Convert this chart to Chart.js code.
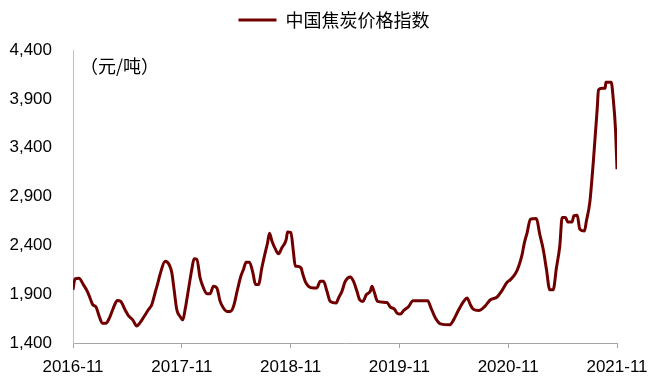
<!DOCTYPE html>
<html>
<head>
<meta charset="utf-8">
<script src="https://cdn.jsdelivr.net/npm/chart.js@4.4.1/dist/chart.umd.min.js"></script>
<style>
html,body{margin:0;padding:0;background:#fff;}
#wrap{width:668px;height:383px;position:relative;}
</style>
</head>
<body>
<div id="wrap"><canvas id="c" width="668" height="383"></canvas></div>
<script>
// Series: months since 2016-11 and index values (元/吨)
const seriesName = '中国焦炭价格指数';
const unitLabel = '（元/吨）';
const xTickLabels = ['2016-11','2017-11','2018-11','2019-11','2020-11','2021-11'];
const yTicks = [1400, 1900, 2400, 2900, 3400, 3900, 4400];
const months = [
  0, 0.22, 0.66, 1.14, 1.58, 1.95, 2.17, 2.54, 2.90, 3.23, 3.64, 4.01, 4.45, 4.89, 5.27, 5.74,
  6.11, 6.59, 7.03, 7.40, 7.84, 8.31, 8.69, 9.05, 9.31, 9.60, 10.16, 10.60, 10.90, 11.15, 11.45, 11.81,
  12.11, 12.36, 12.73, 13.10, 13.36, 13.66, 14.02, 14.39, 14.76, 15.12, 15.49, 15.86, 16.23, 16.59, 16.97, 17.33,
  17.70, 18.14, 18.51, 18.80, 19.10, 19.46, 19.84, 20.13, 20.46, 20.83, 21.20, 21.45, 21.67, 21.94, 22.30, 22.67,
  23.04, 23.52, 23.66, 24.03, 24.32, 24.51, 24.70, 25.14, 25.36, 25.61, 25.98, 26.53, 26.90, 27.27, 27.63, 28.01,
  28.37, 29.03, 29.29, 29.66, 30.03, 30.58, 30.94, 31.32, 31.61, 31.98, 32.35, 32.79, 32.98, 33.23, 33.59, 34.63,
  35.00, 35.44, 35.74, 36.10, 36.47, 37.02, 37.50, 39.11, 39.49, 39.97, 40.52, 41.54, 41.98, 42.54, 43.09, 43.46,
  43.83, 44.13, 44.75, 45.48, 46.04, 46.78, 47.33, 47.88, 48.25, 48.80, 49.16, 49.54, 49.79, 50.09, 50.45, 51.11,
  51.48, 51.86, 52.22, 52.58, 52.96, 53.32, 53.69, 53.95, 54.32, 54.57, 55.06, 55.23, 55.61, 55.90, 56.41, 56.63,
  57.00, 57.37, 57.63, 57.82, 57.96, 58.37, 58.70, 58.77, 59.36, 59.58, 59.84, 60.00
];
const values = [
  1946, 2057, 2063, 1998, 1929, 1843, 1792, 1768, 1671, 1603, 1603, 1655, 1758, 1836, 1826, 1740,
  1681, 1637, 1575, 1609, 1671, 1740, 1792, 1912, 1998, 2101, 2238, 2204, 2119, 1946, 1740, 1671,
  1637, 1740, 1946, 2153, 2263, 2256, 2067, 1964, 1905, 1905, 1980, 1964, 1826, 1758, 1723, 1723,
  1774, 1946, 2083, 2153, 2228, 2228, 2119, 1998, 1998, 2170, 2325, 2421, 2524, 2444, 2366, 2314,
  2376, 2462, 2537, 2531, 2325, 2187, 2187, 2170, 2101, 2032, 1980, 1964, 1964, 2032, 2032, 1929,
  1826, 1809, 1861, 1929, 2032, 2077, 2032, 1929, 1843, 1826, 1895, 1929, 1980, 1919, 1826, 1815,
  1768, 1747, 1706, 1696, 1733, 1774, 1833, 1833, 1758, 1655, 1596, 1586, 1637, 1740, 1826, 1861,
  1792, 1747, 1733, 1781, 1843, 1871, 1939, 2022, 2049, 2111, 2187, 2307, 2428, 2531, 2668, 2675,
  2513, 2359, 2153, 1946, 1946, 2170, 2393, 2686, 2686, 2640, 2640, 2702, 2709, 2565, 2547, 2651,
  2840, 3235, 3562, 3802, 3991, 4008, 4008, 4070, 4070, 3905, 3578, 3180
];

const lineColor = '#700000';

const unitPlugin = {
  id: 'unitLabel',
  afterDraw(chart) {
    const ctx = chart.ctx;
    ctx.save();
    ctx.font = '18px "Noto Sans CJK SC"';
    ctx.fillStyle = '#000';
    ctx.textBaseline = 'middle';
    ctx.textAlign = 'left';
    ctx.fillText(unitLabel, 80, 66);
    ctx.restore();
  }
};
const legendSpace = {
  id: 'legendSpace',
  beforeInit(chart) {
    const orig = chart.legend.fit;
    chart.legend.fit = function () {
      orig.bind(chart.legend)();
      this.height += 11;
    };
  },
  afterLayout(chart) {
    const lg = chart.legend;
    if (lg) { lg.left = 0; lg.right = chart.width; lg.width = chart.width; }
  }
};

new Chart(document.getElementById('c'), {
  type: 'line',
  data: {
    datasets: [{
      label: seriesName,
      data: months.map((m, i) => ({ x: m, y: values[i] })),
      borderColor: lineColor,
      backgroundColor: lineColor,
      borderWidth: 3,
      pointRadius: 0,
      cubicInterpolationMode: 'monotone',
      fill: false
    }]
  },
  options: {
    responsive: false,
    animation: false,
    devicePixelRatio: 1,
    layout: { padding: { top: 2, right: 51, left: 0, bottom: 0 } },
    plugins: {
      tooltip: { enabled: false },
      legend: {
        display: true,
        position: 'top',
        labels: {
          font: { family: '"Noto Sans CJK SC"', size: 18 },
          color: '#000',
          boxWidth: 38,
          boxHeight: 3,
          padding: 9,
          generateLabels(chart) {
            const items = Chart.defaults.plugins.legend.labels.generateLabels(chart);
            items.forEach(it => { it.lineWidth = 0; it.fillStyle = lineColor; it.strokeStyle = lineColor; });
            return items;
          }
        }
      }
    },
    scales: {
      x: {
        type: 'linear',
        min: 0,
        max: 60,
        afterBuildTicks(scale) { scale.ticks = xTickLabels.map((_, i) => ({ value: i * 12 })); },
        afterFit(scale) { scale.height = 40; },
        ticks: {
          autoSkip: false,
          maxRotation: 0,
          padding: 9,
          color: '#000',
          font: { family: '"Liberation Sans", Arial', size: 17 },
          callback: (v) => xTickLabels[Math.round(v / 12)]
        },
        grid: { display: true, drawOnChartArea: false, drawTicks: true, tickLength: 5, color: '#a6a6a6' },
        border: { display: true, color: '#a6a6a6', width: 1 }
      },
      y: {
        min: 1400,
        max: 4400,
        afterBuildTicks(scale) { scale.ticks = yTicks.map(v => ({ value: v })); },
        afterFit(scale) { scale.width = 73; },
        ticks: {
          padding: 21,
          color: '#000',
          font: { family: '"Liberation Sans", Arial', size: 17 },
          callback: (v) => v.toLocaleString('en-US')
        },
        grid: { display: false, drawTicks: false },
        border: { display: true, color: '#bfbfbf', width: 1 }
      }
    }
  },
  plugins: [unitPlugin, legendSpace]
});
</script>
</body>
</html>
